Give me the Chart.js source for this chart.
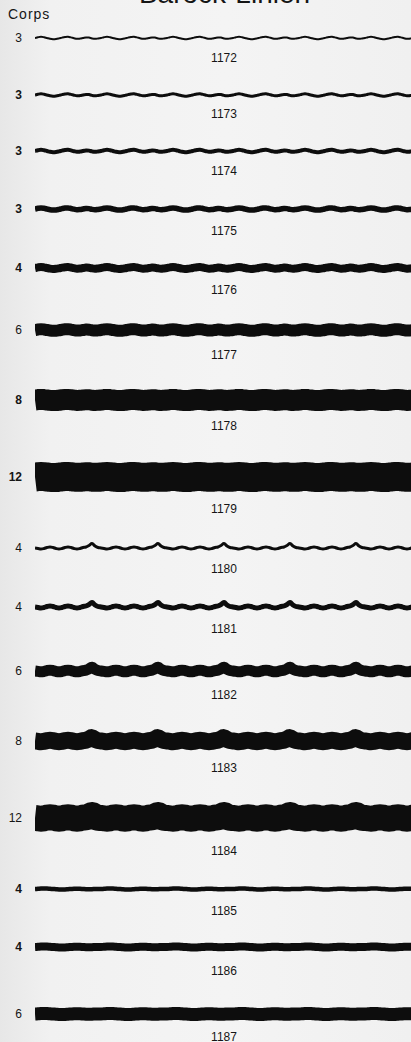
<!DOCTYPE html>
<html>
<head>
<meta charset="utf-8">
<script src="https://cdn.jsdelivr.net/npm/chart.js@4.4.1/dist/chart.umd.min.js"></script>
<style>
  html, body { margin: 0; padding: 0; }
  body {
    width: 411px;
    height: 1042px;
    overflow: hidden;
    position: relative;
    background: linear-gradient(90deg, #e7e7e7 0, #f1f1f1 50px, #f4f4f4 55%, #f0f0f0 100%);
    font-family: "Liberation Sans", Arial, sans-serif;
    color: #151515;
  }
  .title {
    position: absolute;
    left: 0;
    width: 449px;
    top: -20px;
    text-align: center;
    font-size: 28px;
    line-height: 28px;
  }
  .corps-head {
    position: absolute;
    left: 8px;
    top: 6px;
    font-size: 14px;
    line-height: 16px;
    letter-spacing: 1px;
  }
  .corps {
    position: absolute;
    left: 0;
    width: 22px;
    text-align: right;
    font-size: 12px;
    line-height: 14px;
  }
  .num {
    position: absolute;
    left: 35px;
    width: 378px;
    text-align: center;
    font-size: 12px;
    line-height: 14px;
  }
  canvas { position: absolute; left: 35px; }
</style>
</head>
<body>
<div class="title">Barock-Linien</div>
<div class="corps-head">Corps</div>
<div id="rows"></div>

<script>
// rule numbers and their body size (Corps)
const RULES = ['1172', '1173', '1174', '1175', '1176', '1177', '1178', '1179',
  '1180', '1181', '1182', '1183', '1184', '1185', '1186', '1187'];
const CORPS = [3, 3, 3, 3, 4, 6, 8, 12, 4, 4, 6, 8, 12, 4, 4, 6];
const FAMILY = ['wave', 'wave', 'wave', 'wave', 'wave', 'wave', 'wave', 'wave',
  'bump', 'bump', 'bump', 'bump', 'bump', 'flat', 'flat', 'flat'];

// one repeat of each ornament piece (x along the rule, y up)
const PIECE_X = [0, 3, 6, 9, 12, 15, 18, 21, 24, 27, 30, 33, 36, 39, 42, 45, 48, 51, 54, 57, 60, 63, 66];
const WAVE_Y = [0, 0.8, 1.2, 0.8, 0, -0.8, -1.2, -1, -0.4, 0.4, 1, 1.2, 0.6, -0.2, -0.8, -0.6, 0, 0.6, 0.4, -0.4, -0.8, -0.5, 0];
const BUMP_Y = [0, -0.5, -1, -0.5, 0.5, 1, 0.5, -0.5, -1, -0.5, 0.5, 1, 0.5, -0.5, -1, -0.5, 0.5, 1, 2.5, 4.5, 2, 0.5, 0];
const FLAT_Y = [0, 0.2, 0.4, 0.5, 0.4, 0.2, 0, -0.2, -0.4, -0.5, -0.4, -0.2, 0, 0.2, 0.3, 0.2, 0, -0.2, -0.3, -0.2, 0, 0.1, 0];
const PIECES = { wave: WAVE_Y, bump: BUMP_Y, flat: FLAT_Y };

// layout: rule centre line, label centre, stroke width (px), ripple depth
const LINE_Y = [38, 95, 151, 209, 268, 330, 399.5, 477, 548, 607, 671, 741, 818, 889, 947, 1014];
const LABEL_Y = [57.5, 113.5, 170.5, 231, 289.5, 355, 425.5, 508.5, 569, 628.5, 694.5, 767.5, 850.5, 910.5, 971, 1037];
const STROKE = [2, 3, 4, 5.5, 8, 12, 21, 29, 3, 5, 11, 17, 26, 4.5, 8, 13];
const RIPPLE = [1, 1, 1, 0.9, 0.8, 0.7, 0.5, 0.45, 1, 1, 0.85, 0.75, 0.65, 1, 1, 1];
const BOLD = [false, true, true, true, true, false, true, true, false, false, false, false, false, true, true, false];

const RULE_LENGTH = 376;
const CANVAS_H = 44;

const rows = document.getElementById('rows');

function piecePoints(family, depth) {
  const ys = PIECES[family];
  const span = PIECE_X[PIECE_X.length - 1];
  const points = [];
  for (let start = 0; start < RULE_LENGTH + span; start += span) {
    PIECE_X.forEach((x, i) => {
      if (i === 0 && start > 0) return;
      points.push({ x: start + x, y: ys[i] * depth });
    });
  }
  return points;
}

RULES.forEach((rule, i) => {
  const corps = document.createElement('div');
  corps.className = 'corps';
  corps.textContent = CORPS[i];
  corps.style.top = (LINE_Y[i] - 7) + 'px';
  if (BOLD[i]) corps.style.fontWeight = 'bold';
  rows.appendChild(corps);

  const num = document.createElement('div');
  num.className = 'num';
  num.textContent = rule;
  num.style.top = (LABEL_Y[i] - 7) + 'px';
  rows.appendChild(num);

  const canvas = document.createElement('canvas');
  canvas.width = RULE_LENGTH;
  canvas.height = CANVAS_H;
  canvas.style.top = (LINE_Y[i] - CANVAS_H / 2) + 'px';
  rows.appendChild(canvas);

  new Chart(canvas, {
    type: 'line',
    data: {
      datasets: [{
        label: rule,
        data: piecePoints(FAMILY[i], RIPPLE[i]),
        borderColor: '#0d0d0d',
        borderWidth: STROKE[i],
        borderCapStyle: 'butt',
        borderJoinStyle: 'round',
        pointRadius: 0,
        tension: 0.4,
        fill: false,
      }],
    },
    options: {
      responsive: false,
      animation: false,
      devicePixelRatio: 1,
      events: [],
      layout: { padding: 0 },
      scales: {
        x: { type: 'linear', display: false, min: 0, max: RULE_LENGTH },
        y: { type: 'linear', display: false, min: -CANVAS_H / 2, max: CANVAS_H / 2 },
      },
      plugins: {
        legend: { display: false },
        tooltip: { enabled: false },
      },
    },
  });
});
</script>
</body>
</html>
